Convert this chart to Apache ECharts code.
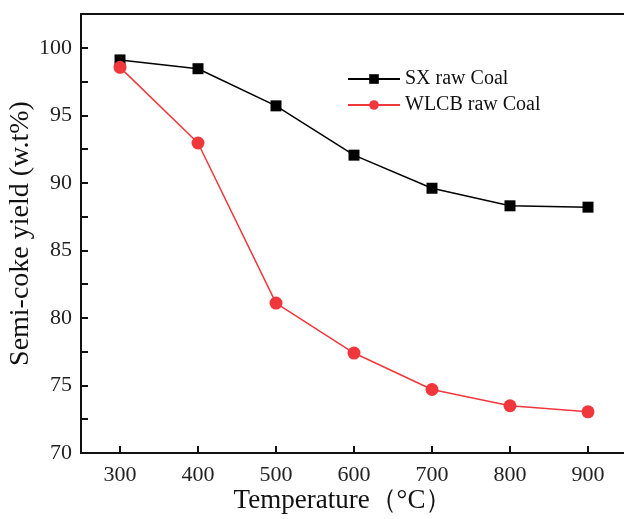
<!DOCTYPE html>
<html>
<head>
<meta charset="utf-8">
<script src="https://cdn.jsdelivr.net/npm/echarts@6/dist/echarts.min.js"></script>
<style>
  html, body { margin: 0; padding: 0; background: #fff; }
  #chart { width: 624px; height: 519px; }
</style>
</head>
<body>
<div id="chart"></div>
<script>
// Pyrolysis temperature (°C)
const temperatures = [300, 400, 500, 600, 700, 800, 900];
// Semi-coke yield (wt%)
const sxYield = [99.1, 98.45, 95.7, 92.05, 89.6, 88.3, 88.2];
const wlcbYield = [98.55, 92.95, 81.1, 77.4, 74.7, 73.5, 73.05];
const seriesNames = ['SX raw Coal', 'WLCB raw Coal'];
const xTicks = [300, 400, 500, 600, 700, 800, 900];
const yTicks = [70, 75, 80, 85, 90, 95, 100];

const serif = 'Liberation Serif';
const chart = echarts.init(document.getElementById('chart'), null, { renderer: 'canvas' });

const pair = (ys) => temperatures.map((t, i) => [t, ys[i]]);

chart.setOption({
  animation: false,
  backgroundColor: '#fff',
  grid: { left: 81, right: -3, top: 14, bottom: 66, containLabel: false, outerBoundsMode: 'none' },
  legend: {
    left: 342, top: 64, orient: 'vertical',
    itemWidth: 52, itemHeight: 12, itemGap: 6,
    textStyle: { fontFamily: serif, fontSize: 20, color: '#111' },
    data: seriesNames
  },
  xAxis: [{
    type: 'value', min: 250, max: 950, interval: 50,
    name: 'Temperature（°C）', nameLocation: 'middle', nameGap: 34, nameMoveOverlap: false,
    nameTextStyle: { fontFamily: serif, fontSize: 27, color: '#111', padding: [0, 22, 0, 0],
      verticalAlign: 'top' },
    axisLine: { show: true, onZero: false, lineStyle: { color: '#111', width: 2 } },
    axisTick: { show: true, inside: true, length: 7, lineStyle: { color: '#111', width: 2 },
      customValues: xTicks },
    axisLabel: { fontFamily: serif, fontSize: 22, color: '#222', margin: 11,
      customValues: xTicks },
    splitLine: { show: false }
  }, {
    type: 'value', position: 'top', min: 250, max: 950,
    axisLine: { show: true, lineStyle: { color: '#111', width: 2 } },
    axisTick: { show: false }, axisLabel: { show: false }, splitLine: { show: false }
  }],
  yAxis: {
    type: 'value', min: 70, max: 102.5, interval: 2.5,
    name: 'Semi-coke yield (w.t%)', nameLocation: 'middle', nameGap: 46, nameMoveOverlap: false,
    nameTextStyle: { fontFamily: serif, fontSize: 28, color: '#111', verticalAlign: 'bottom' },
    axisLine: { show: true, onZero: false, lineStyle: { color: '#111', width: 2 } },
    axisTick: { show: true, inside: true, length: 7, lineStyle: { color: '#111', width: 2 } },
    axisLabel: { fontFamily: serif, fontSize: 22, color: '#222', margin: 9,
      customValues: yTicks },
    splitLine: { show: false }
  },
  series: [{
    name: seriesNames[0], type: 'line', data: pair(sxYield),
    symbol: 'rect', symbolSize: 11,
    itemStyle: { color: '#000' },
    lineStyle: { color: '#000', width: 1.5 }
  }, {
    name: seriesNames[1], type: 'line', data: pair(wlcbYield),
    symbol: 'circle', symbolSize: 13,
    itemStyle: { color: '#f0373c' },
    lineStyle: { color: '#f0373c', width: 1.5 }
  }]
});
</script>
</body>
</html>
